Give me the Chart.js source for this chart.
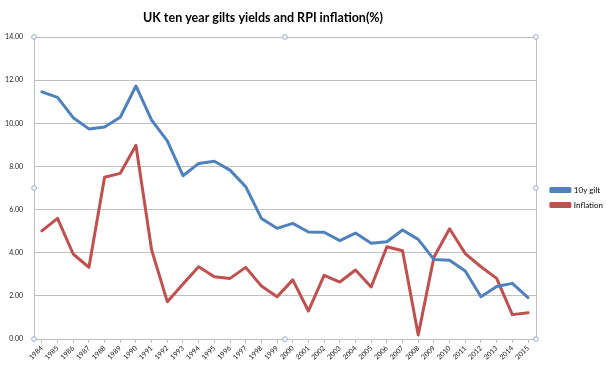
<!DOCTYPE html>
<html>
<head>
<meta charset="utf-8">
<script src="https://cdn.jsdelivr.net/npm/chart.js@4/dist/chart.umd.min.js"></script>
<style>
html,body{margin:0;padding:0;background:#fff;}
#wrap{width:606px;height:368px;position:relative;}
</style>
</head>
<body>
<div id="wrap"><canvas id="c" width="606" height="368"></canvas></div>
<script>
const titleText = "UK ten year gilts yields and RPI inflation(%)";
const years = ["1984","1985","1986","1987","1988","1989","1990","1991","1992","1993","1994","1995","1996","1997","1998","1999","2000","2001","2002","2003","2004","2005","2006","2007","2008","2009","2010","2011","2012","2013","2014","2015"];
const gilt10y = [11.46,11.20,10.26,9.74,9.83,10.28,11.73,10.15,9.18,7.57,8.14,8.24,7.83,7.06,5.59,5.13,5.36,4.96,4.95,4.56,4.91,4.44,4.51,5.05,4.62,3.69,3.65,3.15,1.96,2.43,2.58,1.92];
const inflation = [5.01,5.59,3.94,3.32,7.50,7.68,8.98,4.13,1.73,2.55,3.35,2.89,2.81,3.32,2.46,1.96,2.74,1.30,2.95,2.64,3.20,2.41,4.28,4.09,0.19,3.79,5.11,3.96,3.35,2.81,1.13,1.22];
const yTicks = [0,2,4,6,8,10,12,14];

const FONT = "Lato, 'Liberation Sans', sans-serif";

const framePlugin = {
  id: 'frame',
  afterLayout(chart) {
    const lg = chart.legend;
    if (lg) { lg.left += 8; lg.right += 8; lg.top -= 5; lg.bottom -= 5; }
  },
  afterDraw(chart) {
    const ctx = chart.ctx, a = chart.chartArea;
    ctx.save();
    ctx.strokeStyle = '#c0c0c0';
    ctx.lineWidth = 1;
    ctx.beginPath();
    ctx.moveTo(Math.round(a.right) + 0.5, a.top);
    ctx.lineTo(Math.round(a.right) + 0.5, a.bottom);
    ctx.stroke();
    const mx = (a.left + a.right) / 2, my = (a.top + a.bottom) / 2;
    const pts = [[a.left,a.top],[mx,a.top],[a.right,a.top],[a.left,my],[a.right,my],[a.left,a.bottom],[mx,a.bottom],[a.right,a.bottom]];
    ctx.strokeStyle = '#8eaadb';
    ctx.fillStyle = '#ffffff';
    for (const [x,y] of pts) {
      ctx.beginPath();
      ctx.arc(x, y, 2.3, 0, Math.PI*2);
      ctx.fill();
      ctx.stroke();
    }
    ctx.fillStyle = '#000';
    ctx.font = "bold 12.5px " + FONT;
    ctx.textAlign = 'center';
    ctx.textBaseline = 'middle';
    ctx.fillText(titleText, 263, 18);
    ctx.restore();
  }
};

new Chart(document.getElementById('c'), {
  type: 'line',
  data: {
    labels: years,
    datasets: [
      { label: '10y gilt', data: gilt10y, borderColor: '#4f81bd', backgroundColor: '#4f81bd', borderWidth: 3, pointRadius: 0, tension: 0, borderJoinStyle: 'round', borderCapStyle: 'round' },
      { label: 'Inflation', data: inflation, borderColor: '#c0504d', backgroundColor: '#c0504d', borderWidth: 3, pointRadius: 0, tension: 0, borderJoinStyle: 'round', borderCapStyle: 'round' }
    ]
  },
  options: {
    responsive: false,
    animation: false,
    devicePixelRatio: 1,
    layout: { padding: { top: 37, left: 0, right: 1, bottom: 0 } },
    plugins: {
      title: { display: false },
      tooltip: { enabled: false },
      legend: {
        position: 'right',
        align: 'center',
        labels: {
          boxWidth: 19, boxHeight: 3, padding: 7,
          color: '#000',
          font: { family: FONT, size: 8 }
        }
      }
    },
    scales: {
      x: {
        offset: true,
        grid: { display: true, drawOnChartArea: false, drawTicks: true, tickLength: 4, color: '#c0c0c0', offset: false },
        border: { display: true, color: '#c0c0c0' },
        ticks: { color: '#222', font: { family: FONT, size: 7 }, maxRotation: 45, minRotation: 45, autoSkip: false, padding: 1 },
        afterFit(s) { s.height = 29; }
      },
      y: {
        min: 0, max: 14,
        afterBuildTicks(s) { s.ticks = yTicks.map(v => ({ value: v })); },
        grid: { color: '#c0c0c0', drawTicks: false },
        border: { display: true, color: '#c0c0c0' },
        ticks: { color: '#222', font: { family: FONT, size: 7 }, padding: 11, callback: v => Number(v).toFixed(2) },
        afterFit(s) { s.width = 34; }
      }
    }
  },
  plugins: [framePlugin]
});
</script>
</body>
</html>
